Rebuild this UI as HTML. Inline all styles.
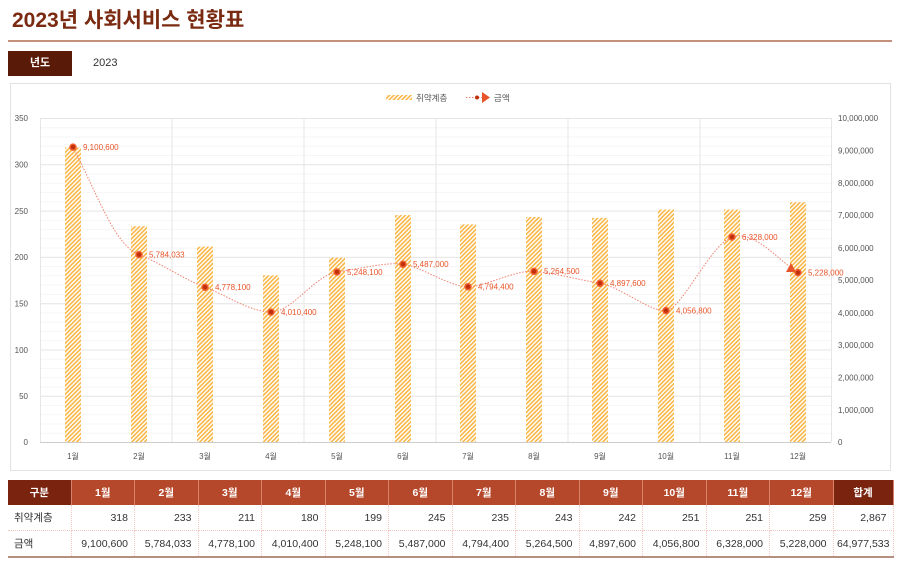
<!DOCTYPE html>
<html><head><meta charset="utf-8"><style>
body{margin:0;width:900px;height:566px;background:#fff;font-family:"Liberation Sans","Noto Sans CJK KR",sans-serif;position:relative;overflow:hidden}
.t{position:absolute;left:12px;top:4px;font-size:21px;font-weight:bold;color:#7a2a10}
.hr{position:absolute;left:8px;top:40px;width:884px;height:2px;background:#c4917e}
.yb{position:absolute;left:8px;top:51px;width:64px;height:25px;background:#5a1a08;color:#fff;font-size:11px;font-weight:bold;text-align:center;line-height:25px}
.yv{position:absolute;left:93px;top:51px;line-height:25px;font-size:11px;color:#333}
.box{position:absolute;left:10px;top:83px;width:879px;height:386px;border:1px solid #e2e2e2}
table{position:absolute;left:8px;top:480px;width:885px;table-layout:fixed;border-collapse:collapse;font-size:10.5px;color:#333}
td{height:25px;padding:0 6px;text-align:right;border-right:1px dotted #f0c8c0;border-bottom:1px dotted #f0c8c0;white-space:nowrap;overflow:hidden}
tr.h td{background:#b5472a;color:#fff;font-weight:bold;text-align:center;border-right:1px solid #d9826a;border-bottom:none}
tr.h td.d{background:#7a2410}
td.l{text-align:left}
tr.last td{border-bottom:2px solid #b59080}
</style></head><body>
<div class="t">2023년 사회서비스 현황표</div>
<div class="hr"></div>
<div class="yb">년도</div><div class="yv">2023</div>
<div class="box"></div>
<svg style="position:absolute;left:0;top:0" width="900" height="566" font-family="Liberation Sans, Noto Sans CJK KR, sans-serif">
<defs>
<pattern id="h" width="3" height="3" patternUnits="userSpaceOnUse" patternTransform="rotate(45)"><rect width="3" height="3" fill="#fff"/><rect width="1.6" height="3" fill="#f9b646"/></pattern>
<pattern id="m" x="40" y="118" width="10" height="9.257" patternUnits="userSpaceOnUse"><line x1="0" y1="0.5" x2="10" y2="0.5" stroke="#f5f5f5" stroke-width="1"/></pattern>
</defs>
<rect x="40" y="118" width="791" height="324" fill="url(#m)"/>
<g stroke="#e6e6e6" stroke-width="1">
<line x1="40" x2="831" y1="118.5" y2="118.5"/><line x1="40" x2="831" y1="164.8" y2="164.8"/><line x1="40" x2="831" y1="211.1" y2="211.1"/><line x1="40" x2="831" y1="257.4" y2="257.4"/><line x1="40" x2="831" y1="303.7" y2="303.7"/><line x1="40" x2="831" y1="350" y2="350"/><line x1="40" x2="831" y1="396.3" y2="396.3"/>
<line x1="172" x2="172" y1="118" y2="442"/><line x1="304" x2="304" y1="118" y2="442"/><line x1="436" x2="436" y1="118" y2="442"/><line x1="568" x2="568" y1="118" y2="442"/><line x1="700" x2="700" y1="118" y2="442"/>
<line x1="40.5" x2="40.5" y1="118" y2="442"/><line x1="831.5" x2="831.5" y1="118" y2="442"/>
</g>
<line x1="40" x2="831" y1="442.5" y2="442.5" stroke="#ccc"/>
<g fill="url(#h)">
<rect x="65" y="147.5" width="16" height="294.5"/><rect x="131" y="226.2" width="16" height="215.8"/><rect x="197" y="246.6" width="16" height="195.4"/><rect x="263" y="275.3" width="16" height="166.7"/><rect x="329" y="257.7" width="16" height="184.3"/><rect x="395" y="215.1" width="16" height="226.9"/><rect x="460" y="224.4" width="16" height="217.6"/><rect x="526" y="217" width="16" height="225"/><rect x="592" y="217.9" width="16" height="224.1"/><rect x="658" y="209.6" width="16" height="232.4"/><rect x="724" y="209.6" width="16" height="232.4"/><rect x="790" y="202.2" width="16" height="239.8"/>
</g>
<path d="M73,147.1 C100,200 115,245 139,254.6 S185,280 205,287.2 S250,312 271,312.1 S315,275 337,272 S385,262 403,264.2 S450,287 468,286.7 S515,270 534,271.4 S580,280 600,283.3 S650,312 666,310.6 S710,245 732,237 S780,262 798,272.6" fill="none" stroke="#f08070" stroke-width="1" stroke-dasharray="1.5,1.5"/>
<polygon points="786,272 791,263 796,272" fill="#e8542a"/>
<g fill="#c0300a" stroke="#f06030" stroke-width="1.5">
<circle cx="73" cy="147.1" r="3"/><circle cx="139" cy="254.6" r="3"/><circle cx="205" cy="287.2" r="3"/><circle cx="271" cy="312.1" r="3"/><circle cx="337" cy="272" r="3"/><circle cx="403" cy="264.2" r="3"/><circle cx="468" cy="286.7" r="3"/><circle cx="534" cy="271.4" r="3"/><circle cx="600" cy="283.3" r="3"/><circle cx="666" cy="310.6" r="3"/><circle cx="732" cy="237" r="3"/><circle cx="798" cy="272.6" r="3"/>
</g>
<g fill="#e8552a" font-size="8">
<text x="83" y="150">9,100,600</text><text x="149" y="257.5">5,784,033</text><text x="215" y="290">4,778,100</text><text x="281" y="315">4,010,400</text><text x="347" y="275">5,248,100</text><text x="413" y="267">5,487,000</text><text x="478" y="289.5">4,794,400</text><text x="544" y="274">5,264,500</text><text x="610" y="286">4,897,600</text><text x="676" y="313.5">4,056,800</text><text x="742" y="240">6,328,000</text><text x="808" y="275.5">5,228,000</text>
</g>
<g fill="#555" font-size="8" text-anchor="end">
<text x="28" y="121">350</text><text x="28" y="167.5">300</text><text x="28" y="214">250</text><text x="28" y="260">200</text><text x="28" y="306.5">150</text><text x="28" y="353">100</text><text x="28" y="399">50</text><text x="28" y="445">0</text>
</g>
<g fill="#555" font-size="8">
<text x="838" y="121">10,000,000</text><text x="838" y="153.5">9,000,000</text><text x="838" y="186">8,000,000</text><text x="838" y="218">7,000,000</text><text x="838" y="251">6,000,000</text><text x="838" y="283">5,000,000</text><text x="838" y="316">4,000,000</text><text x="838" y="348">3,000,000</text><text x="838" y="380.5">2,000,000</text><text x="838" y="413">1,000,000</text><text x="838" y="445">0</text>
</g>
<g fill="#555" font-size="8" text-anchor="middle">
<text x="73" y="459">1월</text><text x="139" y="459">2월</text><text x="205" y="459">3월</text><text x="271" y="459">4월</text><text x="337" y="459">5월</text><text x="403" y="459">6월</text><text x="468" y="459">7월</text><text x="534" y="459">8월</text><text x="600" y="459">9월</text><text x="666" y="459">10월</text><text x="732" y="459">11월</text><text x="798" y="459">12월</text>
</g>
<rect x="386" y="95" width="26" height="5" fill="url(#h)"/>
<text x="416" y="101" font-size="8.5" fill="#555">취약계층</text>
<line x1="466" x2="484" y1="97.5" y2="97.5" stroke="#f08070" stroke-dasharray="1.5,1.5"/>
<circle cx="477" cy="97.5" r="2" fill="#c0300a"/>
<polygon points="482,92 490,97.5 482,103" fill="#e8542a"/>
<text x="494" y="101" font-size="8.5" fill="#555">금액</text>
</svg>
<table>
<colgroup><col style="width:63px"><col span="12" style="width:63.5px"><col style="width:60px"></colgroup>
<tr class="h"><td class="d">구분</td><td>1월</td><td>2월</td><td>3월</td><td>4월</td><td>5월</td><td>6월</td><td>7월</td><td>8월</td><td>9월</td><td>10월</td><td>11월</td><td>12월</td><td class="d">합계</td></tr>
<tr><td class="l">취약계층</td><td>318</td><td>233</td><td>211</td><td>180</td><td>199</td><td>245</td><td>235</td><td>243</td><td>242</td><td>251</td><td>251</td><td>259</td><td>2,867</td></tr>
<tr class="last"><td class="l">금액</td><td>9,100,600</td><td>5,784,033</td><td>4,778,100</td><td>4,010,400</td><td>5,248,100</td><td>5,487,000</td><td>4,794,400</td><td>5,264,500</td><td>4,897,600</td><td>4,056,800</td><td>6,328,000</td><td>5,228,000</td><td style="padding:0 3px 0 0">64,977,533</td></tr>
</table>
</body></html>
